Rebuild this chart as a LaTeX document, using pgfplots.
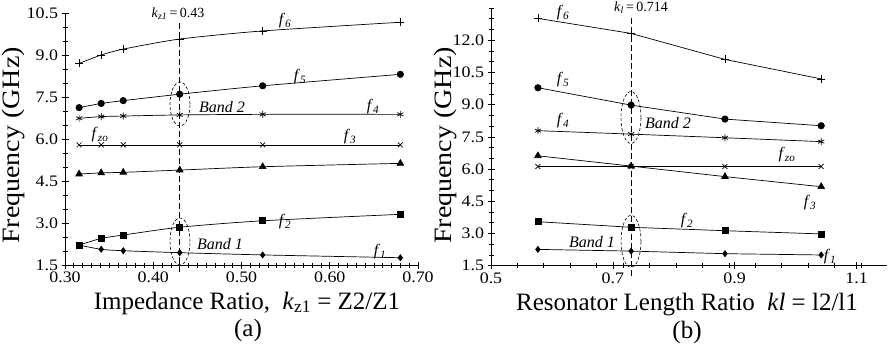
\documentclass[border=0pt]{standalone}
\usepackage{fontspec}
\setmainfont{Liberation Serif}
\newfontfamily\wide[FakeStretch=1.12]{Liberation Serif}
\usepackage{pgfplots}
\pgfplotsset{compat=1.18}
\newcommand{\fl}[1]{\textit{f}\textsubscript{\textit{#1}}}
\begin{document}
\begin{tikzpicture}[x=1pt,y=1pt]
\useasboundingbox (0,0) rectangle (894,349);
\pgfplotsset{
  every axis/.append style={
    scale only axis,
    axis lines=left,
    axis line style={-, line width=0.8pt},
    tick align=center,
    major tick length=7pt,
    minor tick length=5pt,
    tick style={line width=0.7pt, black},
    ticklabel style={font=\wide\fontsize{16}{16}\selectfont},
    /pgf/number format/assume math mode=true,
    clip=false,
  },
  ser/.style={black, line width=0.7pt, mark options={solid}},
}
% ---------------- panel (a)
\begin{axis}[
  at={(65pt,84pt)}, anchor=south west,
  width=353pt, height=252pt,
  xmin=0.3, xmax=0.7, ymin=1.5, ymax=10.5,
  xtick={0.3,0.4,0.5,0.6,0.7},
  xticklabels={0.30,0.40,0.50,0.60,0.70},
  minor x tick num=9,
  ytick={1.5,3,4.5,6,7.5,9,10.5},
  yticklabels={1.5,3.0,4.5,6.0,7.5,9.0,10.5},
  minor y tick num=2,
]
\addplot[ser, smooth, tension=0.4, mark=+, mark size=4pt] coordinates {(0.316,8.70) (0.341,9.00) (0.366,9.21) (0.43,9.57) (0.524,9.86) (0.68,10.17)};
\addplot[ser, smooth, tension=0.4, mark=*, mark size=3.2pt] coordinates {(0.316,7.12) (0.341,7.27) (0.366,7.37) (0.43,7.60) (0.524,7.90) (0.68,8.31)};
\addplot[ser, smooth, tension=0.4, mark=asterisk, mark size=3.5pt] coordinates {(0.316,6.74) (0.341,6.80) (0.366,6.82) (0.43,6.86) (0.524,6.88) (0.68,6.88)};
\addplot[ser, mark=x, mark size=3.5pt] coordinates {(0.316,5.79) (0.341,5.79) (0.366,5.79) (0.43,5.79) (0.524,5.79) (0.68,5.79)};
\addplot[ser, smooth, tension=0.4, mark=triangle*, mark size=3.8pt] coordinates {(0.316,4.75) (0.341,4.79) (0.366,4.81) (0.43,4.89) (0.524,5.01) (0.68,5.13)};
\addplot[ser, smooth, tension=0.4, mark=square*, mark size=3pt] coordinates {(0.316,2.21) (0.341,2.45) (0.366,2.57) (0.43,2.85) (0.524,3.08) (0.68,3.31)};
\addplot[ser, smooth, tension=0.4, mark=diamond*, mark size=3pt] coordinates {(0.316,2.21) (0.341,2.06) (0.366,2.01) (0.43,1.94) (0.524,1.86) (0.68,1.76)};
\draw[black, line width=1.2pt, dash pattern=on 6pt off 3pt] (axis cs:0.43,1.25) -- (axis cs:0.43,10.32);
\end{axis}
% ---------------- panel (b)
\begin{axis}[
  at={(491pt,83.3pt)}, anchor=south west,
  width=396pt, height=257.6pt,
  xmin=0.5, xmax=1.15, ymin=1.5, ymax=13.5,
  xtick={0.5,0.7,0.9,1.1},
  xticklabels={0.5,0.7,0.9,1.1},
  minor xtick={0.5433,0.5867,...,1.15},
  ytick={1.5,3,4.5,6,7.5,9,10.5,12},
  yticklabels={1.5,3.0,4.5,6.0,7.5,9.0,10.5,12.0},
  minor ytick={2,2.5,...,13.5},
]
\addplot[ser, mark=+, mark size=4pt] coordinates {(0.577,13.02) (0.730,12.32) (0.884,11.11) (1.042,10.20)};
\addplot[ser, mark=*, mark size=3.2pt] coordinates {(0.577,9.79) (0.730,8.98) (0.884,8.33) (1.042,8.02)};
\addplot[ser, mark=asterisk, mark size=3.5pt] coordinates {(0.577,7.79) (0.730,7.63) (0.884,7.46) (1.042,7.28)};
\addplot[ser, mark=x, mark size=3.5pt] coordinates {(0.577,6.12) (0.730,6.12) (0.884,6.12) (1.042,6.12)};
\addplot[ser, mark=triangle*, mark size=3.8pt] coordinates {(0.577,6.62) (0.730,6.14) (0.884,5.65) (1.042,5.18)};
\addplot[ser, mark=square*, mark size=3pt] coordinates {(0.577,3.55) (0.730,3.29) (0.884,3.13) (1.042,2.98)};
\addplot[ser, mark=diamond*, mark size=3pt] coordinates {(0.577,2.26) (0.730,2.18) (0.884,2.06) (1.042,2.00)};
\draw[black, line width=1.2pt, dash pattern=on 6pt off 3pt] (axis cs:0.73,1.0) -- (axis cs:0.73,13.7);
\end{axis}
% ---------------- ellipses
\draw[line width=0.6pt, dash pattern=on 3pt off 2pt] (180,245) ellipse [x radius=10, y radius=22];
\draw[line width=0.6pt, dash pattern=on 3pt off 2pt] (180,107.5) ellipse [x radius=10, y radius=23.5];
\draw[line width=0.6pt, dash pattern=on 3pt off 2pt] (631,231.5) ellipse [x radius=10, y radius=26];
\draw[line width=0.6pt, dash pattern=on 3pt off 2pt] (631,107.7) ellipse [x radius=10, y radius=26];
% ---------------- annotations
\begingroup
\fontsize{16}{16}\selectfont
\node at (285,328) {\fl{6}};
\node at (300,272) {\fl{5}};
\node at (222,242) {\textit{Band 2}};
\node at (373,242) {\fl{4}};
\node at (100,214) {\fl{zo}};
\node at (350,212) {\fl{3}};
\node at (285,127) {\fl{2}};
\node at (220,105) {\textit{Band 1}};
\node at (380,97) {\fl{1}};
\node at (563,336) {\fl{6}};
\node at (563,269) {\fl{5}};
\node at (563,228) {\fl{4}};
\node at (668,226) {\textit{Band 2}};
\node at (787,194) {\fl{zo}};
\node at (810,146) {\fl{3}};
\node at (687,128) {\fl{2}};
\node at (592,107) {\textit{Band 1}};
\node at (830,92) {\fl{1}};
\endgroup
\begingroup
\fontsize{14}{14}\selectfont
\node[fill=white, inner sep=1pt] at (178,335) {\textit{k}\textsubscript{\textit{z1}}\,=\,0.43};
\node[fill=white, inner sep=1pt] at (641,341) {\textit{k}\textsubscript{\textit{l}}\,=\,0.714};
\endgroup
\begingroup
\fontsize{25}{25}\selectfont
\node at (247,46) {Impedance Ratio,\ \ \textit{k}\textsubscript{z1} = Z2/Z1};
\node at (248,19) {(a)};
\node at (687,44) {Resonator Length Ratio\ \ \textit{kl} = l2/l1};
\node at (687,17) {(b)};
\node[rotate=90] at (14,203.5) {\wide Frequency (GHz)};
\node[rotate=90] at (446,203.5) {\wide Frequency (GHz)};
\endgroup
\end{tikzpicture}
\end{document}
